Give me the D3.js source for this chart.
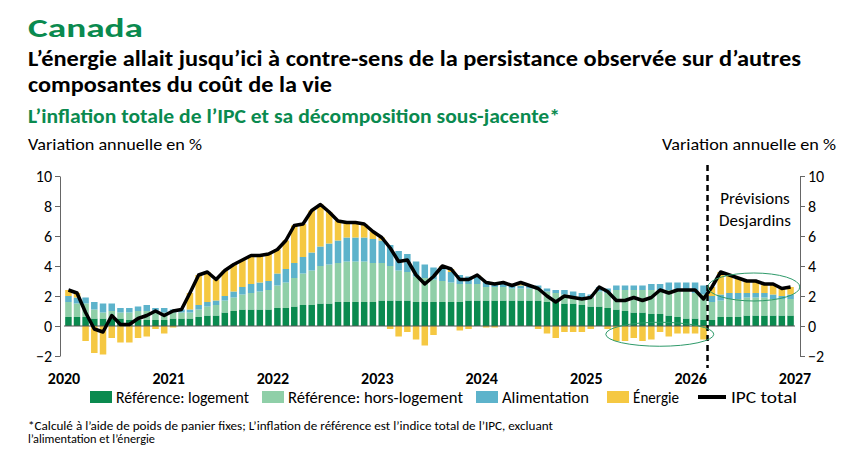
<!DOCTYPE html><html><head><meta charset="utf-8">
<script src="https://cdn.jsdelivr.net/npm/d3@7"></script>
<style>body{margin:0;background:#fff;font-family:Calibri,Carlito,"Open Sans",sans-serif}</style></head><body>
<svg id="c" width="860" height="451"></svg>
<script>
const cpi=[2.4,2.2,0.9,-0.2,-0.4,0.7,0.1,0.1,0.5,0.7,1.0,0.7, 1.0,1.1,2.2,3.4,3.6,3.1,3.7,4.1,4.4,4.7,4.7,4.8, 5.1,5.7,6.7,6.8,7.7,8.1,7.6,7.0,6.9,6.9,6.8,6.3, 5.9,5.2,4.3,4.4,3.4,2.8,3.3,4.0,3.8,3.1,3.1,3.4, 2.9,2.8,2.9,2.7,2.9,2.7,2.5,2.0,1.6,2.0,1.9,1.8, 1.9,2.6,2.3,1.7,1.7,1.9,1.7,1.9,2.4,2.2,2.4,2.4, 2.4,1.8,2.6,3.6,3.4,3.2,3.0,3.0,2.8,2.8,2.5,2.6];
const logement=[.6,.6,.6,.5,.5,.5,.5,.4,.4,.4,.4,.4, .5,.5,.5,.6,.7,.7,.9,1.0,1.1,1.1,1.1,1.1, 1.2,1.2,1.3,1.4,1.4,1.5,1.5,1.6,1.6,1.6,1.6,1.6, 1.7,1.7,1.7,1.7,1.6,1.6,1.6,1.6,1.6,1.6,1.7,1.7, 1.7,1.7,1.7,1.7,1.7,1.7,1.7,1.6,1.6,1.5,1.5,1.4, 1.3,1.3,1.2,1.1,1.0,.9,.9,.8,.8,.7,.6,.5, .5,.4,.4,.6,.6,.6,.7,.7,.7,.7,.7,.7];
const horsLogement=[1.0,.9,.9,.6,.4,.5,.4,.5,.6,.6,.5,.5, .4,.4,.4,.5,.6,.7,.8,.9,1.0,1.1,1.2,1.3, 1.5,1.7,1.9,2.1,2.3,2.5,2.6,2.6,2.7,2.7,2.7,2.6, 2.5,2.3,2.0,1.9,1.7,1.6,1.5,1.4,1.3,1.2,1.1,1.1, .9,.9,.9,.8,.8,.8,.8,.7,.6,.6,.5,.5, .6,1.0,1.0,1.3,1.4,1.5,1.5,1.6,1.6,1.7,1.8,1.9, 1.7,1.7,1.2,1.1,1.2,1.2,1.2,1.2,1.2,1.1,1.1,1.1];
const alimentation=[.4,.4,.4,.5,.6,.5,.3,.3,.3,.4,.3,.3, .2,.2,.2,.3,.3,.3,.3,.4,.5,.6,.6,.6, .8,.9,1.0,1.1,1.2,1.3,1.4,1.5,1.6,1.6,1.6,1.6, 1.5,1.4,1.3,1.2,1.0,.9,.8,.8,.7,.6,.5,.5, .4,.3,.3,.2,.2,.2,.2,.2,.2,.3,.3,.3, .2,.3,.3,.3,.3,.3,.3,.4,.4,.5,.5,.5, .7,.6,.4,.4,.4,.4,.3,.3,.3,.3,.2,.3];
const energie=[.4,.3,-1.0,-1.8,-1.9,-.8,-1.1,-1.1,-.8,-.7,-.2,-.5, -.1,0,1.1,2.0,2.0,1.4,1.7,1.8,1.8,1.9,1.8,1.8, 1.6,1.9,2.5,2.2,2.8,2.8,2.1,1.3,1.0,1.0,.9,.5, .2,-.2,-.7,-.4,-.9,-1.3,-.6,.2,.2,-.3,-.2,.1, -.1,-.1,0,0,.2,0,-.2,-.5,-.8,-.4,-.4,-.4, -.2,0,-.2,-1.0,-1.0,-.8,-1.0,-.9,-.4,-.7,-.5,-.5, -.5,-.9,.6,1.5,1.2,1.0,.8,.8,.6,.7,.5,.5];
const years=[2020,2021,2022,2023,2024,2025,2026,2027];
const yTicks=[-2,0,2,4,6,8,10];
const seriesNames=["Référence: logement","Référence: hors-logement","Alimentation","Énergie"];
const colors=["#0a8a4f","#8fcfa8","#5db3cb","#f5c842"];

const svg=d3.select("#c");
const x=d3.scaleTime().domain([new Date(2020,0,1),new Date(2027,0,1)]).range([64,795]);
const y=d3.scaleLinear().domain([-2,10]).range([356,176]);
const G="#0a8a4f";
function T(xp,yp,s,size,opts={}){const t=svg.append("text").attr("x",xp).attr("y",yp).attr("font-size",size).text(s);
  if(opts.bold)t.attr("font-weight",700); if(opts.fill)t.attr("fill",opts.fill); if(opts.anchor)t.attr("text-anchor",opts.anchor);
  if(opts.len)t.attr("textLength",opts.len).attr("lengthAdjust","spacingAndGlyphs"); return t;}
T(28,37,"Canada",26,{bold:1,fill:G,len:115});
T(28,66,"L’énergie allait jusqu’ici à contre-sens de la persistance observée sur d’autres",22,{bold:1,len:773});
T(28,92,"composantes du coût de la vie",22,{bold:1,len:304});
T(28,123,"L’inflation totale de l’IPC et sa décomposition sous-jacente*",19.5,{bold:1,fill:G,len:532});
T(28,150,"Variation annuelle en %",17,{len:174});
T(836,150,"Variation annuelle en %",17,{anchor:"end",len:174});

const series=[logement,horsLogement,alimentation,energie];
const months=cpi.map((_,i)=>new Date(2020,i,1));
const bw=6.5;
months.forEach((m,i)=>{
  let pos=0,neg=0;
  series.forEach((s,k)=>{
    const v=s[i]; if(!v) return;
    let y0,y1;
    if(v>=0){y0=pos;y1=pos+v;pos=y1;} else {y0=neg;y1=neg+v;neg=y1;}
    svg.append("rect").attr("x",x(m)+(x(new Date(2020,i+1,1))-x(m)-bw)/2).attr("width",bw)
      .attr("y",y(Math.max(y0,y1))).attr("height",Math.abs(y(y0)-y(y1))).attr("fill",colors[k]);
  });
});
const mid=i=>x(months[i])+ (x(new Date(2020,i+1,1))-x(months[i]))/2;
svg.append("line").attr("x1",64).attr("x2",795).attr("y1",y(0)).attr("y2",y(0)).attr("stroke","#555");
svg.append("path").datum(cpi).attr("fill","none").attr("stroke","#000").attr("stroke-width",3.5).attr("stroke-linejoin","round")
  .attr("d",d3.line().x((d,i)=>mid(i)).y(d=>y(d)));
const st=g=>{g.select(".domain").attr("stroke","#666");g.selectAll("line").attr("stroke","#666");g.selectAll("text").attr("font-size",16).attr("font-family","Calibri,Carlito,'Open Sans',sans-serif").attr("fill","#000");};
svg.append("g").attr("transform","translate(60,0)").call(d3.axisLeft(y).tickValues(yTicks).tickSize(5).tickSizeOuter(0)).call(st);
svg.append("g").attr("transform","translate(800,0)").call(d3.axisRight(y).tickValues(yTicks).tickSize(5).tickSizeOuter(0)).call(st);
years.forEach(yr=>T(x(new Date(yr,0,1)),384,yr,16,{bold:1,anchor:"middle"}));
const fx=x(new Date(2026,2,1));
svg.append("line").attr("x1",fx).attr("x2",fx).attr("y1",165).attr("y2",368).attr("stroke","#000").attr("stroke-width",2.5).attr("stroke-dasharray","6,4");
T(755,204,"Prévisions",17,{anchor:"middle"});
T(755,226,"Desjardins",17,{anchor:"middle"});
svg.append("ellipse").attr("cx",x(new Date(2025,8,15))).attr("cy",y(-0.55)).attr("rx",54).attr("ry",12).attr("fill","none").attr("stroke","#2e9a6a");
svg.append("ellipse").attr("cx",x(new Date(2026,7,10))).attr("cy",y(2.6)).attr("rx",46).attr("ry",14).attr("fill","none").attr("stroke","#2e9a6a");
const lx=[90,262,476,607];
const ll=[133,175,87,46];
seriesNames.forEach((n,k)=>{
  svg.append("rect").attr("x",lx[k]).attr("y",391).attr("width",22).attr("height",12).attr("fill",colors[k]);
  T(lx[k]+26,403,n,17,{len:ll[k]});
});
svg.append("line").attr("x1",698).attr("x2",726).attr("y1",397).attr("y2",397).attr("stroke","#000").attr("stroke-width",4);
T(731,403,"IPC total",17,{len:66});
T(28,430,"*Calculé à l’aide de poids de panier fixes; L’inflation de référence est l’indice total de l’IPC, excluant",13,{len:525});
T(28,443,"l’alimentation et l’énergie",13,{len:127});
</script></body></html>
